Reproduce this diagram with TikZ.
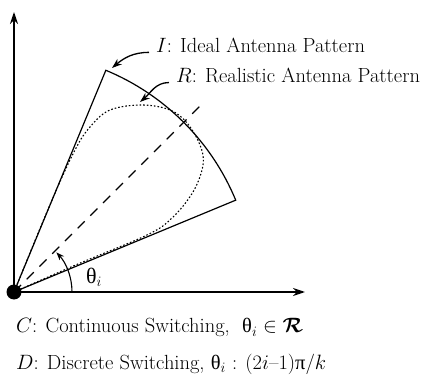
\documentclass[tikz,border=0pt]{standalone}
\usepackage{amsmath,amssymb}
\usepackage{fontspec}
\newfontfamily\greekfont{Liberation Serif}
\usetikzlibrary{arrows.meta}

\begin{document}
\begin{tikzpicture}[x=1pt, y=1pt,
  axis/.style={-{Stealth[length=12pt,width=8pt]}, line width=1.4pt},
  pattern/.style={line width=1.2pt},
  beam/.style={line width=1.1pt, dash pattern=on 10pt off 8pt},
  real/.style={line width=1.1pt, dash pattern=on 1.6pt off 2pt},
  callout/.style={-{Stealth[length=10pt,width=7pt]}, line width=1.3pt},
  lbl/.style={font=\fontsize{20.5}{24}\selectfont, inner sep=1pt, anchor=base west},
]
  \useasboundingbox (-14,-86) rectangle (415,292);
  \coordinate (O) at (0,0);
  \coordinate (ytip) at (0,280);
  \coordinate (xtip) at (291,0);
  \coordinate (edgeL) at (67.5:240);
  \coordinate (edgeR) at (22.5:240);
  \coordinate (beam) at (45:262);

  % axes
  \draw[axis] (O) -- (ytip);
  \draw[axis] (O) -- (xtip);

  % ideal pattern and beam direction
  \draw[pattern] (O) -- (edgeR) arc[start angle=22.5, end angle=67.5, radius=240] -- cycle;
  \draw[beam] (O) -- (beam);

  % realistic pattern
  \draw[real] plot[smooth, tension=0.6] coordinates {(0,0) (64,28) (133,57) (158,74) (179,100) (189,127) (186,147) (173,169) (156,182) (128,187) (96,182) (76,165) (61,142) (38,92) (0,0)};

  % switching angle
  \draw[-{Stealth[length=8pt,width=6pt]}, line width=1.1pt] (58,0) arc[start angle=0, end angle=43, radius=58];
  \node[lbl, anchor=center, font=\fontsize{22}{26}\selectfont] (theta) at (80,15) {{\greekfont θ}$_i$};

  \fill (O) circle (7.5);

  % pattern labels
  \coordinate (itip) at (98,224);
  \coordinate (rtip) at (126,190);
  \node[lbl] (ideal) at (141,239) {$I$: Ideal Antenna Pattern};
  \node[lbl] (realistic) at (161,209) {$R$: Realistic Antenna Pattern};
  \draw[callout] ([xshift=-6pt,yshift=2pt]ideal.south west) to[out=180, in=40] (itip);
  \draw[callout] ([xshift=-6pt,yshift=2pt]realistic.south west) to[out=180, in=40] (rtip);

  % legend
  \node[lbl] (cont) at (1,-41) {$C$: Continuous Switching,\ \ {\greekfont θ}$_i\in\boldsymbol{\mathcal{R}}$};
  \node[lbl] (disc) at (1,-77) {$D$: Discrete Switching, {\greekfont θ}$_i$ : (2$i$--1){\greekfont π}/$k$};
\end{tikzpicture}
\end{document}
